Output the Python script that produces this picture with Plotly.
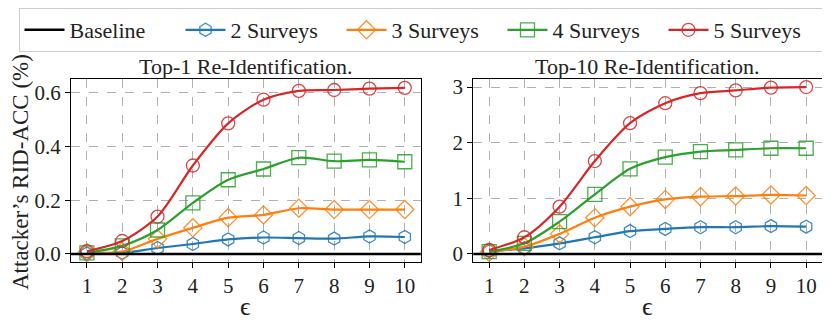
import plotly.graph_objects as go
from plotly.subplots import make_subplots

# epsilon values on the x axis
epsilons = [1, 2, 3, 4, 5, 6, 7, 8, 9, 10]
baseline = 0.0

# Top-1 re-identification accuracy (%)
top1_2 = [0.002, 0.004, 0.022, 0.037, 0.054, 0.061, 0.059, 0.057, 0.065, 0.063]
top1_3 = [0.004, 0.009, 0.056, 0.097, 0.135, 0.145, 0.170, 0.165, 0.165, 0.165]
top1_4 = [0.004, 0.030, 0.089, 0.190, 0.276, 0.316, 0.358, 0.345, 0.350, 0.343]
top1_5 = [0.010, 0.048, 0.139, 0.329, 0.486, 0.574, 0.607, 0.610, 0.615, 0.618]

# Top-10 re-identification accuracy (%)
top10_2 = [0.05, 0.10, 0.19, 0.30, 0.41, 0.45, 0.48, 0.48, 0.50, 0.49]
top10_3 = [0.03, 0.13, 0.36, 0.65, 0.85, 0.98, 1.03, 1.04, 1.06, 1.05]
top10_4 = [0.04, 0.19, 0.58, 1.07, 1.53, 1.74, 1.84, 1.87, 1.90, 1.90]
top10_5 = [0.07, 0.30, 0.85, 1.67, 2.35, 2.71, 2.89, 2.94, 2.99, 3.00]

SERIES = [
    ("2 Surveys", "#1f77b4", "hexagon-open", 13),
    ("3 Surveys", "#ff7f0e", "diamond-open", 14),
    ("4 Surveys", "#2ca02c", "square-open", 14),
    ("5 Surveys", "#d62728", "circle-open", 13),
]
FONT = "Liberation Serif"

# the page body keeps its default 8px margin, so the figure is drawn 8px in
W, H = 822, 320


def px(x):
    return (x - 8) / W


def py(y):
    return 1 - (y - 8) / H


X1 = [px(71), px(420.7)]
X2 = [px(473.3), px(822)]
YDOM = [py(261.7), py(79)]

fig = make_subplots(rows=1, cols=2)

# legend entry for the baseline (the line itself is a shape)
fig.add_trace(go.Scatter(x=[None], y=[None], mode="lines", name="Baseline",
                         line=dict(color="black", width=2.5)), row=1, col=1)

for col, panel in ((1, [top1_2, top1_3, top1_4, top1_5]),
                   (2, [top10_2, top10_3, top10_4, top10_5])):
    for (name, color, symbol, size), values in zip(SERIES, panel):
        fig.add_trace(go.Scatter(
            x=epsilons, y=values, name=name, mode="lines+markers",
            showlegend=(col == 1),
            line=dict(color=color, width=2.2, shape="spline", smoothing=0.8),
            marker=dict(symbol=symbol, size=size, color=color,
                        line=dict(color=color, width=1.3), opacity=0.85)),
            row=1, col=col)
    xref = "x domain" if col == 1 else "x2 domain"
    yref = "y" if col == 1 else "y2"
    fig.add_shape(type="line", xref=xref, yref=yref, x0=0, x1=1,
                  y0=baseline, y1=baseline, line=dict(color="black", width=2.5))

axis_style = dict(showline=True, mirror=True, linecolor="black", linewidth=1.3,
                  ticks="outside", ticklen=5, tickcolor="black", automargin=False,
                  showgrid=True, gridcolor="#b0b0b0", griddash="dash", gridwidth=0.8,
                  zeroline=False, tickfont=dict(family=FONT, size=21, color="#222"))

fig.update_xaxes(**axis_style, range=[0.55, 10.45], tickvals=epsilons)
fig.update_xaxes(domain=X1, row=1, col=1)
fig.update_xaxes(domain=X2, row=1, col=2)
fig.update_yaxes(**axis_style, domain=YDOM)
fig.update_yaxes(range=[-0.029, 0.651], tickvals=[0, 0.2, 0.4, 0.6],
                 tickformat=".1f", row=1, col=1)
fig.update_yaxes(range=[-0.14, 3.145], tickvals=[0, 1, 2, 3], row=1, col=2)

for dom, title in ((X1, "Top-1 Re-Identification."), (X2, "Top-10 Re-Identification.")):
    fig.add_annotation(text=title, xref="paper", yref="paper",
                       x=sum(dom) / 2, y=py(67), xanchor="center", yanchor="middle",
                       showarrow=False, font=dict(family=FONT, size=22, color="#222"))
    fig.add_annotation(text="ϵ", xref="paper", yref="paper",
                       x=sum(dom) / 2, y=py(306), xanchor="center", yanchor="middle",
                       showarrow=False, font=dict(family=FONT, size=26, color="#222"))

fig.add_annotation(text="Attacker’s RID-ACC (%)", xref="paper", yref="paper",
                   x=px(20), y=py(172), textangle=-90, showarrow=False,
                   xanchor="center", yanchor="middle",
                   font=dict(family=FONT, size=23, color="#222"))

fig.update_layout(
    width=W, height=H, margin=dict(l=0, r=0, t=0, b=0),
    plot_bgcolor="white", paper_bgcolor="white",
    legend=dict(orientation="h", x=px(422), xanchor="center", y=1, yanchor="top",
                bordercolor="#cccccc", borderwidth=1, entrywidth=106,
                font=dict(family=FONT, size=22, color="#222"), itemwidth=40,
                tracegroupgap=0),
)

fig.write_html("out.html")
